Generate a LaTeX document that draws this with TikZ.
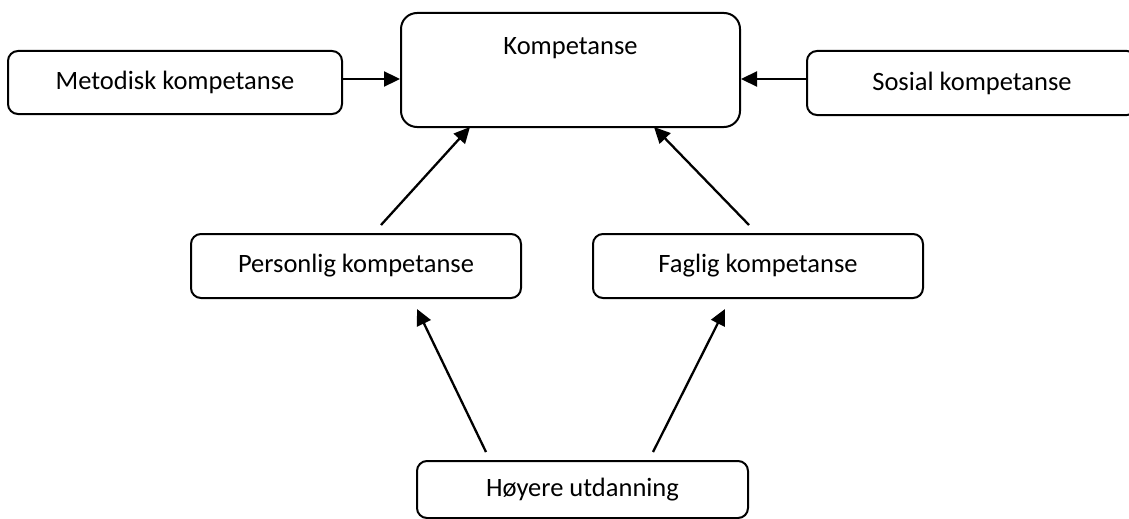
\documentclass[tikz,border=0pt]{standalone}
\usepackage{fontspec}
\setmainfont{Carlito}
\usetikzlibrary{arrows.meta}
\begin{document}
\begin{tikzpicture}[x=1pt,y=1pt,
  box/.style={draw=black, line width=2pt, rounded corners=10pt, fill=white,
    inner sep=0pt, font=\fontsize{26.5}{30}\selectfont},
  arr/.style={line width=2.3pt, -{Triangle[length=16pt,width=15pt]}}]
\useasboundingbox (0,0) rectangle (1129,-519);
\node[box, rounded corners=16pt, minimum width=339pt, minimum height=114pt,
  label={[anchor=north, yshift=-22pt, font=\fontsize{26.5}{30}\selectfont]north:Kompetanse}]
  (kom) at (570.5,-70) {};
\node[box, minimum width=334pt, minimum height=63pt] (met) at (175,-82.5) {Metodisk kompetanse};
\node[box, minimum width=330pt, minimum height=64pt] (sos) at (972,-83) {Sosial kompetanse};
\node[box, minimum width=330pt, minimum height=64pt] (per) at (356,-266) {Personlig kompetanse};
\node[box, minimum width=330pt, minimum height=64pt] (fag) at (758,-266) {Faglig kompetanse};
\node[box, minimum width=331pt, minimum height=57pt] (hoy) at (582.5,-489.5) {Høyere utdanning};
\draw[arr] ([yshift=3.5pt]met.east) -- ([yshift=-9pt]kom.west);
\draw[arr] ([yshift=4pt]sos.west) -- ([yshift=-9pt]kom.east);
\draw[arr] ([xshift=25pt,yshift=8pt]per.north) -- ([xshift=-100.5pt,yshift=1pt]kom.south);
\draw[arr] ([xshift=-9pt,yshift=8pt]fag.north) -- ([xshift=83.5pt,yshift=1pt]kom.south);
\draw[arr] ([xshift=-96.5pt,yshift=8pt]hoy.north) -- ([xshift=61pt,yshift=-10pt]per.south);
\draw[arr] ([xshift=70.5pt,yshift=8pt]hoy.north) -- ([xshift=-33pt,yshift=-10pt]fag.south);
\end{tikzpicture}
\end{document}
